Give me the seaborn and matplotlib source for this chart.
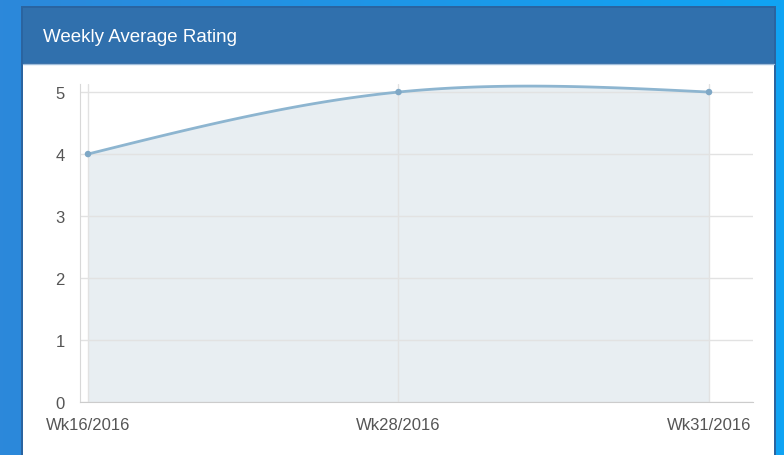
import numpy as np
import pandas as pd
import matplotlib
matplotlib.use("Agg")
import matplotlib.pyplot as plt
import matplotlib.patches as mpatches
import seaborn as sns

# -------------------------------------------------------------
# DATA
# -------------------------------------------------------------
TITLE = "Weekly Average Rating"
weeks = ["Wk16/2016", "Wk28/2016", "Wk31/2016"]
ratings = [4, 5, 5]
y_ticks = [0, 1, 2, 3, 4, 5]

LINE_COLOR = "#8db5d0"
POINT_COLOR = "#7fa8c6"
FILL_COLOR = "#e8eef2"
GRID_COLOR = "#e2e2e2"
TEXT_COLOR = "#555555"

sns.set_style("white")
plt.rcParams["font.family"] = ["Liberation Sans", "DejaVu Sans"]


def natural_spline(y, n=60):
    # smooth curve through the category points (natural cubic spline, unit spacing)
    y = np.asarray(y, dtype=float)
    k = len(y)
    A = np.zeros((k, k))
    b = np.zeros(k)
    A[0, 0] = A[-1, -1] = 1
    for i in range(1, k - 1):
        A[i, i - 1], A[i, i], A[i, i + 1] = 1, 4, 1
        b[i] = 6 * (y[i + 1] - 2 * y[i] + y[i - 1])
    M = np.linalg.solve(A, b)
    xs, ys = [], []
    for i in range(k - 1):
        t = np.linspace(0, 1, n)
        s = (1 - t) * y[i] + t * y[i + 1] - t * (1 - t) / 6 * ((2 - t) * M[i] + (1 + t) * M[i + 1])
        xs.append(i + t)
        ys.append(s)
    return np.concatenate(xs), np.concatenate(ys)


fig = plt.figure(figsize=(7.84, 4.56), dpi=100)

# background gradient + card
bg = fig.add_axes([0, 0, 1, 1])
grad = np.linspace(0, 1, 256)[None, :, None]
c1 = np.array([0x2c, 0x88, 0xda]) / 255
c2 = np.array([0x10, 0xa4, 0xf4]) / 255
bg.imshow(c1 + (c2 - c1) * grad, aspect="auto", extent=[0, 1, 0, 1])
bg.set_xlim(0, 1); bg.set_ylim(0, 1); bg.axis("off")

W, H = 784, 456
def fx(px): return px / W
def fy(py): return 1 - py / H

bg.add_patch(mpatches.Rectangle((fx(21), fy(460)), fx(776) - fx(21), fy(7) - fy(460),
                                facecolor="#2a64a0", edgecolor="none"))
bg.add_patch(mpatches.Rectangle((fx(23), fy(460)), fx(774) - fx(23), fy(65) - fy(460),
                                facecolor="white", edgecolor="none"))
bg.add_patch(mpatches.Rectangle((fx(23), fy(64)), fx(774) - fx(23), fy(9) - fy(64),
                                facecolor="#3070ad", edgecolor="none"))
bg.plot([fx(23), fx(774)], [fy(65), fy(65)], color="#9fbedc", lw=1)
bg.text(fx(43), fy(37), TITLE, color="white", fontsize=13.5, va="center", ha="left")

# chart
ax = fig.add_axes([fx(80), fy(403), fx(753) - fx(80), fy(85) - fy(403)])
ax.set_facecolor("none")
x_idx = np.arange(len(weeks))
cx, cy = natural_spline(ratings)
ax.fill_between(cx, 0, cy, color=FILL_COLOR, lw=0, zorder=0.2)
sns.lineplot(x=cx, y=cy, ax=ax, color=LINE_COLOR, lw=2, zorder=3)
sns.scatterplot(x=x_idx, y=ratings, ax=ax, color=POINT_COLOR, s=22, edgecolor="none", zorder=4)

ax.set_xlim(-8 / 310.5, 2 + 44 / 310.5)
ax.set_ylim(0, 5.13)
ax.set_xticks(x_idx)
ax.set_xticklabels(weeks)
ax.set_yticks(y_ticks)
ax.grid(True, color=GRID_COLOR, lw=1)
ax.set_axisbelow(True)
ax.tick_params(axis="y", length=10, width=1, color=GRID_COLOR, pad=1, labelsize=12, labelcolor=TEXT_COLOR)
ax.tick_params(axis="x", length=7.5, width=1, color="#dddddd", pad=3, labelsize=12, labelcolor=TEXT_COLOR)
for s in ["top", "right"]:
    ax.spines[s].set_visible(False)
ax.spines["left"].set_color("#d8d8d8")
ax.spines["bottom"].set_color("#cccccc")
ax.set_xlabel(""); ax.set_ylabel("")

fig.savefig("out.png", dpi=100)
